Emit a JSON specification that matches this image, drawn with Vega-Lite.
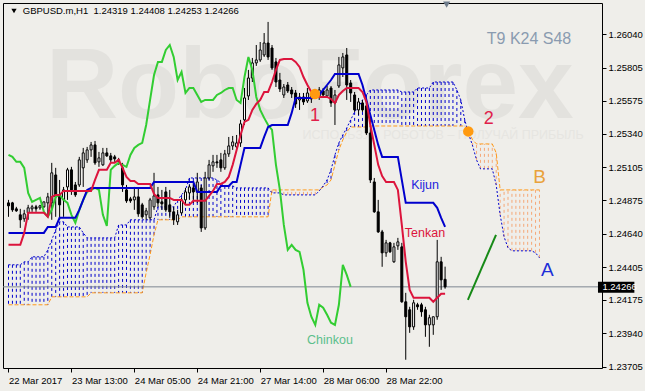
{
"$schema":"https://vega.github.io/schema/vega-lite/v6.json",
"width":599,"height":365,"autosize":{"type":"none"},
"padding":{"left":3,"top":3,"right":43,"bottom":23},
"background":"#efeeea",
"config":{"view":{"stroke":"#000000","strokeWidth":1},"axis":{"labelOverlap":false,"labelFlush":false,"labelBound":false,"grid":false,"domain":false,"title":null,"labelSeparation":0}},
"datasets":{
"bars":[
{"i":0,"o":1.24856,"h":1.24877,"l":1.24758,"c":1.24835,"t":1.24561,"k":1.24645},
{"i":1,"o":1.24856,"h":1.24863,"l":1.24793,"c":1.24807,"t":1.24561,"k":1.24645},
{"i":2,"o":1.24814,"h":1.24828,"l":1.24793,"c":1.248,"t":1.24561,"k":1.24645},
{"i":3,"o":1.24772,"h":1.24814,"l":1.2468,"c":1.24737,"t":1.24561,"k":1.24645},
{"i":4,"o":1.24744,"h":1.24807,"l":1.24723,"c":1.24779,"t":1.24645,"k":1.24645},
{"i":5,"o":1.24786,"h":1.24842,"l":1.24737,"c":1.24821,"t":1.24786,"k":1.24645},
{"i":6,"o":1.24814,"h":1.24842,"l":1.24793,"c":1.24828,"t":1.24786,"k":1.24645},
{"i":7,"o":1.24828,"h":1.24842,"l":1.24793,"c":1.24814,"t":1.24786,"k":1.24645},
{"i":8,"o":1.24821,"h":1.24842,"l":1.24807,"c":1.24835,"t":1.24786,"k":1.24645},
{"i":9,"o":1.24828,"h":1.24863,"l":1.24821,"c":1.24863,"t":1.24786,"k":1.24645},
{"i":10,"o":1.24856,"h":1.24926,"l":1.24758,"c":1.24898,"t":1.24758,"k":1.24687},
{"i":11,"o":1.24856,"h":1.25137,"l":1.24737,"c":1.25067,"t":1.24898,"k":1.24687},
{"i":12,"o":1.25052,"h":1.25102,"l":1.24758,"c":1.24898,"t":1.24912,"k":1.24687},
{"i":13,"o":1.24912,"h":1.25017,"l":1.24737,"c":1.24842,"t":1.24912,"k":1.24751},
{"i":14,"o":1.24877,"h":1.24968,"l":1.24758,"c":1.24947,"t":1.2494,"k":1.24751},
{"i":15,"o":1.24968,"h":1.25102,"l":1.24877,"c":1.25088,"t":1.2494,"k":1.24751},
{"i":16,"o":1.25088,"h":1.25109,"l":1.24912,"c":1.24947,"t":1.2494,"k":1.24751},
{"i":17,"o":1.24982,"h":1.25003,"l":1.24898,"c":1.24912,"t":1.2494,"k":1.24751},
{"i":18,"o":1.24982,"h":1.25179,"l":1.24968,"c":1.25158,"t":1.2494,"k":1.24807},
{"i":19,"o":1.25102,"h":1.25242,"l":1.24968,"c":1.25207,"t":1.2494,"k":1.24877},
{"i":20,"o":1.25158,"h":1.25249,"l":1.25137,"c":1.25228,"t":1.2494,"k":1.24947},
{"i":21,"o":1.25228,"h":1.25284,"l":1.25179,"c":1.25263,"t":1.2494,"k":1.24961},
{"i":22,"o":1.25263,"h":1.25291,"l":1.25123,"c":1.25137,"t":1.25017,"k":1.24961},
{"i":23,"o":1.25144,"h":1.25214,"l":1.25109,"c":1.25172,"t":1.25088,"k":1.24961},
{"i":24,"o":1.25123,"h":1.25242,"l":1.25116,"c":1.25207,"t":1.25088,"k":1.24961},
{"i":25,"o":1.25207,"h":1.25242,"l":1.25179,"c":1.25186,"t":1.25088,"k":1.24961},
{"i":26,"o":1.25186,"h":1.25207,"l":1.25137,"c":1.25158,"t":1.25137,"k":1.24961},
{"i":27,"o":1.25179,"h":1.25193,"l":1.25144,"c":1.25165,"t":1.25137,"k":1.24961},
{"i":28,"o":1.25158,"h":1.25172,"l":1.25123,"c":1.25144,"t":1.25158,"k":1.24961},
{"i":29,"o":1.25102,"h":1.25137,"l":1.24933,"c":1.24982,"t":1.25102,"k":1.24961},
{"i":30,"o":1.24947,"h":1.24982,"l":1.24856,"c":1.2487,"t":1.25038,"k":1.24961},
{"i":31,"o":1.24884,"h":1.24898,"l":1.24856,"c":1.2487,"t":1.2501,"k":1.24961},
{"i":32,"o":1.24877,"h":1.24968,"l":1.24807,"c":1.24898,"t":1.2501,"k":1.24961},
{"i":33,"o":1.24898,"h":1.24961,"l":1.24758,"c":1.24779,"t":1.24989,"k":1.24961},
{"i":34,"o":1.24842,"h":1.24856,"l":1.24744,"c":1.24758,"t":1.24989,"k":1.24961},
{"i":35,"o":1.24772,"h":1.24821,"l":1.24737,"c":1.248,"t":1.24989,"k":1.24961},
{"i":36,"o":1.24751,"h":1.24891,"l":1.24737,"c":1.24877,"t":1.24989,"k":1.24961},
{"i":37,"o":1.24828,"h":1.25067,"l":1.24807,"c":1.24905,"t":1.24919,"k":1.25003},
{"i":38,"o":1.24912,"h":1.24968,"l":1.24828,"c":1.24856,"t":1.24891,"k":1.25003},
{"i":39,"o":1.24863,"h":1.24947,"l":1.24807,"c":1.24849,"t":1.24891,"k":1.25003},
{"i":40,"o":1.24933,"h":1.24968,"l":1.24793,"c":1.24807,"t":1.24891,"k":1.25003},
{"i":41,"o":1.24842,"h":1.24947,"l":1.24751,"c":1.24793,"t":1.24891,"k":1.25003},
{"i":42,"o":1.24793,"h":1.24828,"l":1.24701,"c":1.24737,"t":1.24877,"k":1.25003},
{"i":43,"o":1.24723,"h":1.24807,"l":1.24701,"c":1.24772,"t":1.24877,"k":1.25003},
{"i":44,"o":1.24786,"h":1.24891,"l":1.24772,"c":1.24877,"t":1.24877,"k":1.25003},
{"i":45,"o":1.24877,"h":1.24961,"l":1.24842,"c":1.24933,"t":1.24842,"k":1.25003},
{"i":46,"o":1.24926,"h":1.24982,"l":1.24877,"c":1.24968,"t":1.24842,"k":1.25003},
{"i":47,"o":1.24961,"h":1.24996,"l":1.24856,"c":1.24933,"t":1.2487,"k":1.25003},
{"i":48,"o":1.24933,"h":1.25067,"l":1.24856,"c":1.25003,"t":1.2487,"k":1.24933},
{"i":49,"o":1.24961,"h":1.24982,"l":1.24652,"c":1.2468,"t":1.2487,"k":1.24933},
{"i":50,"o":1.2468,"h":1.25074,"l":1.24666,"c":1.25031,"t":1.2487,"k":1.24933},
{"i":51,"o":1.25031,"h":1.25158,"l":1.25017,"c":1.25123,"t":1.24905,"k":1.24933},
{"i":52,"o":1.25116,"h":1.25193,"l":1.25074,"c":1.25144,"t":1.2494,"k":1.24933},
{"i":53,"o":1.25144,"h":1.25193,"l":1.25102,"c":1.25137,"t":1.24989,"k":1.24933},
{"i":54,"o":1.25158,"h":1.25207,"l":1.25074,"c":1.25102,"t":1.24989,"k":1.24975},
{"i":55,"o":1.25102,"h":1.25228,"l":1.25088,"c":1.252,"t":1.25003,"k":1.24975},
{"i":56,"o":1.252,"h":1.25319,"l":1.25179,"c":1.25256,"t":1.25038,"k":1.24975},
{"i":57,"o":1.25256,"h":1.25326,"l":1.25228,"c":1.25284,"t":1.25123,"k":1.25003},
{"i":58,"o":1.25249,"h":1.25333,"l":1.25242,"c":1.25277,"t":1.25228,"k":1.25003},
{"i":59,"o":1.25277,"h":1.25439,"l":1.25249,"c":1.25411,"t":1.25333,"k":1.25123},
{"i":60,"o":1.25439,"h":1.25663,"l":1.25403,"c":1.25593,"t":1.25425,"k":1.25242},
{"i":61,"o":1.25607,"h":1.2579,"l":1.25579,"c":1.25733,"t":1.25439,"k":1.25242},
{"i":62,"o":1.25733,"h":1.25874,"l":1.25705,"c":1.25839,"t":1.25509,"k":1.25242},
{"i":63,"o":1.25839,"h":1.25965,"l":1.25818,"c":1.2586,"t":1.25551,"k":1.25242},
{"i":64,"o":1.2586,"h":1.25986,"l":1.25846,"c":1.2593,"t":1.25579,"k":1.25242},
{"i":65,"o":1.25895,"h":1.26049,"l":1.25881,"c":1.25979,"t":1.25635,"k":1.25319},
{"i":66,"o":1.25979,"h":1.26127,"l":1.2586,"c":1.25881,"t":1.25635,"k":1.25389},
{"i":67,"o":1.25944,"h":1.25965,"l":1.2579,"c":1.25804,"t":1.25705,"k":1.25403},
{"i":68,"o":1.25846,"h":1.25874,"l":1.2567,"c":1.25705,"t":1.2579,"k":1.25403},
{"i":69,"o":1.25719,"h":1.25769,"l":1.25635,"c":1.25656,"t":1.2586,"k":1.25403},
{"i":70,"o":1.25614,"h":1.25691,"l":1.25593,"c":1.2567,"t":1.25867,"k":1.25403},
{"i":71,"o":1.25684,"h":1.25705,"l":1.25628,"c":1.25642,"t":1.25867,"k":1.25403},
{"i":72,"o":1.25649,"h":1.2567,"l":1.25593,"c":1.25621,"t":1.25867,"k":1.25488},
{"i":73,"o":1.25628,"h":1.25649,"l":1.25523,"c":1.25551,"t":1.25846,"k":1.25593},
{"i":74,"o":1.25579,"h":1.25628,"l":1.25509,"c":1.256,"t":1.25811,"k":1.25593},
{"i":75,"o":1.256,"h":1.25628,"l":1.25544,"c":1.25565,"t":1.2574,"k":1.25593},
{"i":76,"o":1.25572,"h":1.25663,"l":1.25558,"c":1.25628,"t":1.25684,"k":1.25593},
{"i":77,"o":1.25621,"h":1.25635,"l":1.25558,"c":1.25586,"t":1.25635,"k":1.25593},
{"i":78,"o":1.25607,"h":1.25656,"l":1.25593,"c":1.25635,"t":1.25614,"k":1.25614},
{"i":79,"o":1.256,"h":1.2567,"l":1.25579,"c":1.25649,"t":1.256,"k":1.25614},
{"i":80,"o":1.25642,"h":1.25663,"l":1.256,"c":1.25614,"t":1.256,"k":1.25649},
{"i":81,"o":1.25607,"h":1.25677,"l":1.25593,"c":1.25649,"t":1.256,"k":1.25684},
{"i":82,"o":1.25663,"h":1.25677,"l":1.2553,"c":1.25558,"t":1.25586,"k":1.25719},
{"i":83,"o":1.25558,"h":1.25649,"l":1.25403,"c":1.25614,"t":1.25558,"k":1.25762},
{"i":84,"o":1.25677,"h":1.25881,"l":1.25663,"c":1.25825,"t":1.25614,"k":1.25762},
{"i":85,"o":1.25804,"h":1.25909,"l":1.2574,"c":1.25881,"t":1.25642,"k":1.25762},
{"i":86,"o":1.25895,"h":1.25944,"l":1.25579,"c":1.25684,"t":1.25663,"k":1.25762},
{"i":87,"o":1.25698,"h":1.25719,"l":1.25565,"c":1.25628,"t":1.25663,"k":1.25762},
{"i":88,"o":1.25614,"h":1.25635,"l":1.25495,"c":1.25509,"t":1.25663,"k":1.25762},
{"i":89,"o":1.25509,"h":1.25593,"l":1.25474,"c":1.25565,"t":1.25663,"k":1.25762},
{"i":90,"o":1.25558,"h":1.25579,"l":1.25495,"c":1.25509,"t":1.25635,"k":1.25684},
{"i":91,"o":1.25537,"h":1.25579,"l":1.25333,"c":1.25347,"t":1.25565,"k":1.25579},
{"i":92,"o":1.25347,"h":1.2546,"l":1.24996,"c":1.25017,"t":1.25403,"k":1.25474},
{"i":93,"o":1.25003,"h":1.25031,"l":1.24786,"c":1.24793,"t":1.25263,"k":1.25368},
{"i":94,"o":1.24793,"h":1.24877,"l":1.24645,"c":1.24652,"t":1.25123,"k":1.25263},
{"i":95,"o":1.24652,"h":1.24666,"l":1.24407,"c":1.24505,"t":1.25045,"k":1.25179},
{"i":96,"o":1.24505,"h":1.24596,"l":1.24477,"c":1.24575,"t":1.25003,"k":1.25179},
{"i":97,"o":1.24575,"h":1.24582,"l":1.24505,"c":1.24512,"t":1.25003,"k":1.25179},
{"i":98,"o":1.24442,"h":1.24575,"l":1.24435,"c":1.24547,"t":1.25003,"k":1.25179},
{"i":99,"o":1.24554,"h":1.2461,"l":1.24526,"c":1.24582,"t":1.24947,"k":1.25179},
{"i":100,"o":1.24547,"h":1.24575,"l":1.24154,"c":1.24161,"t":1.24701,"k":1.25017},
{"i":101,"o":1.24161,"h":1.24224,"l":1.23754,"c":1.24056,"t":1.24442,"k":1.24856},
{"i":102,"o":1.24105,"h":1.24126,"l":1.23943,"c":1.23985,"t":1.24245,"k":1.24856},
{"i":103,"o":1.23985,"h":1.24175,"l":1.23964,"c":1.24154,"t":1.24189,"k":1.24856},
{"i":104,"o":1.2414,"h":1.24154,"l":1.24105,"c":1.24126,"t":1.24189,"k":1.24856},
{"i":105,"o":1.2414,"h":1.24154,"l":1.24056,"c":1.24091,"t":1.24189,"k":1.24856},
{"i":106,"o":1.24105,"h":1.24126,"l":1.23915,"c":1.23999,"t":1.24189,"k":1.24856},
{"i":107,"o":1.23999,"h":1.2407,"l":1.23845,"c":1.24049,"t":1.24189,"k":1.24856},
{"i":108,"o":1.23999,"h":1.24056,"l":1.23929,"c":1.24056,"t":1.24161,"k":1.24856},
{"i":109,"o":1.24056,"h":1.24596,"l":1.24035,"c":1.24442,"t":1.24189,"k":1.24821},
{"i":110,"o":1.24442,"h":1.24477,"l":1.24245,"c":1.24315,"t":1.24217,"k":1.24751},
{"i":111,"o":1.24319,"h":1.24408,"l":1.24253,"c":1.24266,"t":1.24217,"k":1.24687}
],
"cloud":[
{"i":0,"a":1.24421,"b":1.2414},{"i":1,"a":1.24421,"b":1.2414},{"i":2,"a":1.24421,"b":1.2414},{"i":3,"a":1.24421,"b":1.2414},
{"i":4,"a":1.24442,"b":1.2414},{"i":5,"a":1.24442,"b":1.2414},{"i":6,"a":1.24477,"b":1.2414},{"i":7,"a":1.24477,"b":1.2414},
{"i":8,"a":1.24477,"b":1.2414},{"i":9,"a":1.24477,"b":1.2414},{"i":10,"a":1.24526,"b":1.2414},{"i":11,"a":1.24596,"b":1.24196},
{"i":12,"a":1.24666,"b":1.24196},{"i":13,"a":1.24723,"b":1.24196},{"i":14,"a":1.24723,"b":1.24196},{"i":15,"a":1.24687,"b":1.24196},
{"i":16,"a":1.24687,"b":1.24196},{"i":17,"a":1.24687,"b":1.24196},{"i":18,"a":1.24687,"b":1.24196},{"i":19,"a":1.24645,"b":1.24196},
{"i":20,"a":1.2461,"b":1.24196},{"i":21,"a":1.2461,"b":1.24224},{"i":22,"a":1.2461,"b":1.24224},{"i":23,"a":1.2461,"b":1.24224},
{"i":24,"a":1.2461,"b":1.24224},{"i":25,"a":1.2461,"b":1.24224},{"i":26,"a":1.2461,"b":1.24224},{"i":27,"a":1.2461,"b":1.24224},
{"i":28,"a":1.24701,"b":1.24224},{"i":29,"a":1.24701,"b":1.24224},{"i":30,"a":1.24701,"b":1.24224},{"i":31,"a":1.24737,"b":1.24224},
{"i":32,"a":1.24737,"b":1.24224},{"i":33,"a":1.24737,"b":1.24224},{"i":34,"a":1.24737,"b":1.24224},{"i":35,"a":1.24737,"b":1.24365},
{"i":36,"a":1.24737,"b":1.24491},{"i":37,"a":1.24737,"b":1.24631},{"i":38,"a":1.24828,"b":1.24737},{"i":39,"a":1.24828,"b":1.24737},
{"i":40,"a":1.24828,"b":1.24737},{"i":41,"a":1.24828,"b":1.24737},{"i":42,"a":1.24828,"b":1.24737},{"i":43,"a":1.24877,"b":1.24737},
{"i":44,"a":1.24912,"b":1.24758},{"i":45,"a":1.24947,"b":1.24758},{"i":46,"a":1.25031,"b":1.24758},{"i":47,"a":1.25031,"b":1.24758},
{"i":48,"a":1.25031,"b":1.24758},{"i":49,"a":1.25031,"b":1.24758},{"i":50,"a":1.25031,"b":1.24758},{"i":51,"a":1.25031,"b":1.24758},
{"i":52,"a":1.25031,"b":1.24758},{"i":53,"a":1.25017,"b":1.24758},{"i":54,"a":1.24996,"b":1.24758},{"i":55,"a":1.24975,"b":1.24758},
{"i":56,"a":1.24975,"b":1.24758},{"i":57,"a":1.24975,"b":1.24758},{"i":58,"a":1.24961,"b":1.24758},{"i":59,"a":1.24961,"b":1.24758},
{"i":60,"a":1.24961,"b":1.24758},{"i":61,"a":1.24961,"b":1.24758},{"i":62,"a":1.24961,"b":1.24758},{"i":63,"a":1.24961,"b":1.24758},
{"i":64,"a":1.24961,"b":1.24758},{"i":65,"a":1.24961,"b":1.24758},{"i":66,"a":1.24961,"b":1.24758},{"i":67,"a":1.24926,"b":1.24947},
{"i":68,"a":1.24926,"b":1.24947},{"i":69,"a":1.24926,"b":1.24947},{"i":70,"a":1.24912,"b":1.24947},{"i":71,"a":1.24912,"b":1.24947},
{"i":72,"a":1.24912,"b":1.24947},{"i":73,"a":1.24912,"b":1.24947},{"i":74,"a":1.24912,"b":1.24947},{"i":75,"a":1.24912,"b":1.24947},
{"i":76,"a":1.24912,"b":1.24947},{"i":77,"a":1.24912,"b":1.24947},{"i":78,"a":1.24912,"b":1.24947},{"i":79,"a":1.2494,"b":1.24947},
{"i":80,"a":1.24975,"b":1.24968},{"i":81,"a":1.25017,"b":1.24982},{"i":82,"a":1.25088,"b":1.25017},{"i":83,"a":1.25193,"b":1.25123},
{"i":84,"a":1.25277,"b":1.25228},{"i":85,"a":1.25333,"b":1.25298},{"i":86,"a":1.25382,"b":1.25354},{"i":87,"a":1.25439,"b":1.25389},
{"i":88,"a":1.25495,"b":1.25389},{"i":89,"a":1.2553,"b":1.25389},{"i":90,"a":1.25579,"b":1.25389},{"i":91,"a":1.25614,"b":1.25389},
{"i":92,"a":1.25649,"b":1.25396},{"i":93,"a":1.25649,"b":1.25396},{"i":94,"a":1.25649,"b":1.25396},{"i":95,"a":1.25649,"b":1.25396},
{"i":96,"a":1.25649,"b":1.25396},{"i":97,"a":1.25649,"b":1.25396},{"i":98,"a":1.25649,"b":1.25396},{"i":99,"a":1.25649,"b":1.25396},
{"i":100,"a":1.25635,"b":1.25396},{"i":101,"a":1.25635,"b":1.25396},{"i":102,"a":1.25635,"b":1.25396},{"i":103,"a":1.25635,"b":1.25396},
{"i":104,"a":1.25663,"b":1.25396},{"i":105,"a":1.25663,"b":1.25396},{"i":106,"a":1.25663,"b":1.25396},{"i":107,"a":1.25663,"b":1.25396},
{"i":108,"a":1.25705,"b":1.25396},{"i":109,"a":1.25705,"b":1.25396},{"i":110,"a":1.25705,"b":1.25396},{"i":111,"a":1.25705,"b":1.25396},
{"i":112,"a":1.25705,"b":1.25396},{"i":113,"a":1.25705,"b":1.25396},{"i":114,"a":1.25649,"b":1.25396},{"i":115,"a":1.25579,"b":1.25396},
{"i":116,"a":1.25439,"b":1.25396},{"i":117,"a":1.2534,"b":1.25354},{"i":118,"a":1.25256,"b":1.25298},{"i":119,"a":1.25158,"b":1.2527},
{"i":120,"a":1.25095,"b":1.2527},{"i":121,"a":1.25095,"b":1.2527},{"i":122,"a":1.25095,"b":1.2527},{"i":123,"a":1.25095,"b":1.2527},
{"i":124,"a":1.24982,"b":1.25207},{"i":125,"a":1.24772,"b":1.24947},{"i":126,"a":1.24617,"b":1.24947},{"i":127,"a":1.2454,"b":1.24947},
{"i":128,"a":1.24519,"b":1.24947},{"i":129,"a":1.24519,"b":1.24947},{"i":130,"a":1.24519,"b":1.24947},{"i":131,"a":1.24519,"b":1.24947},
{"i":132,"a":1.24519,"b":1.24947},{"i":133,"a":1.24519,"b":1.24947},{"i":134,"a":1.24505,"b":1.24947},{"i":135,"a":1.2447,"b":1.24947}
],
"chinkou":[
{"i":0,"v":1.25193},{"i":1,"v":1.25179},{"i":2,"v":1.25144},{"i":3,"v":1.25144},{"i":4,"v":1.25102},{"i":5,"v":1.24926},
{"i":6,"v":1.24863},{"i":7,"v":1.24877},{"i":8,"v":1.24891},{"i":9,"v":1.24793},{"i":10,"v":1.24758},{"i":11,"v":1.24807},
{"i":12,"v":1.24898},{"i":13,"v":1.24912},{"i":14,"v":1.24877},{"i":15,"v":1.24856},{"i":16,"v":1.24772},{"i":17,"v":1.24716},
{"i":18,"v":1.24807},{"i":19,"v":1.24877},{"i":20,"v":1.24933},{"i":21,"v":1.24947},{"i":22,"v":1.24961},{"i":23,"v":1.24947},
{"i":24,"v":1.24772},{"i":25,"v":1.24694},{"i":26,"v":1.25088},{"i":27,"v":1.25116},{"i":28,"v":1.25137},{"i":29,"v":1.25123},
{"i":30,"v":1.25109},{"i":31,"v":1.25193},{"i":32,"v":1.25242},{"i":33,"v":1.25263},{"i":34,"v":1.25277},{"i":35,"v":1.25403},
{"i":36,"v":1.25579},{"i":37,"v":1.25754},{"i":38,"v":1.25846},{"i":39,"v":1.25846},{"i":40,"v":1.2593},{"i":41,"v":1.25965},
{"i":42,"v":1.25881},{"i":43,"v":1.25719},{"i":44,"v":1.25776},{"i":45,"v":1.25628},{"i":46,"v":1.25663},{"i":47,"v":1.25663},
{"i":48,"v":1.25614},{"i":49,"v":1.25565},{"i":50,"v":1.25579},{"i":51,"v":1.25579},{"i":52,"v":1.25579},{"i":53,"v":1.25614},
{"i":54,"v":1.25628},{"i":55,"v":1.25649},{"i":56,"v":1.25663},{"i":57,"v":1.25663},{"i":58,"v":1.25579},{"i":59,"v":1.25558},
{"i":60,"v":1.2574},{"i":61,"v":1.25881},{"i":62,"v":1.2579},{"i":63,"v":1.256},{"i":64,"v":1.25509},{"i":65,"v":1.25453},
{"i":66,"v":1.25403},{"i":67,"v":1.25368},{"i":68,"v":1.25123},{"i":69,"v":1.24947},{"i":70,"v":1.24701},{"i":71,"v":1.24526},
{"i":72,"v":1.24561},{"i":73,"v":1.24526},{"i":74,"v":1.24512},{"i":75,"v":1.24386},{"i":76,"v":1.24154},{"i":77,"v":1.24056},
{"i":78,"v":1.23999},{"i":79,"v":1.2414},{"i":80,"v":1.24119},{"i":81,"v":1.2407},{"i":82,"v":1.24014},{"i":83,"v":1.23999},
{"i":84,"v":1.2414},{"i":85,"v":1.24421},{"i":86,"v":1.2435},{"i":87,"v":1.24266}
],
"forecast":[{"i":116.8,"p":1.24175},{"i":123.95,"p":1.24631}],
"signals":[{"i":77.9,"p":1.25621},{"i":116.9,"p":1.25358}]
},
"layer":[
{"data":{"name":"cloud"},"mark":{"type":"rule","strokeWidth":1,"opacity":0},
 "encoding":{
  "x":{"field":"i","type":"quantitative","scale":{"domain":[-0.125,149.625],"nice":false,"zero":false},
   "axis":{"orient":"bottom","values":[0,16,32,48,64,80,96],"tickCount":20,"labelExpr":"['22 Mar 2017','23 Mar 13:00','24 Mar 05:00','24 Mar 21:00','27 Mar 14:00','28 Mar 06:00','28 Mar 22:00'][round(datum.value/16)]","title":null,"grid":false,"domain":false,"ticks":true,"tickSize":4,"tickColor":"#000000","tickWidth":1,"labelAlign":"left","labelBaseline":"top","labelPadding":3,"labelDx":1,"labelFont":"Liberation Sans","labelFontSize":9.5,"labelColor":"#000000","labelOverlap":false,"labelFlush":false,"labelBound":false}},
  "y":{"field":"a","type":"quantitative","scale":{"domain":[1.23696,1.2626],"nice":false,"zero":false},
   "axis":{"orient":"right","values":[1.2604,1.25805,1.25575,1.2534,1.25105,1.24875,1.2464,1.24405,1.24175,1.2394,1.23705],"tickCount":30,"format":".5f","title":null,"grid":false,"domain":false,"ticks":true,"tickSize":4,"tickColor":"#000000","tickWidth":1,"labelPadding":2,"labelDy":1,"labelFont":"Liberation Sans","labelFontSize":9.5,"labelColor":"#000000","labelOverlap":false,"labelFlush":false,"labelBaseline":"middle"}},
  "y2":{"field":"b"}}},
{"data":{"values":[{}]},"mark":{"type":"text","text":"RoboForex","font":"Liberation Sans","fontSize":100,"fontWeight":"bold","color":"#e3e2de","align":"center","baseline":"alphabetic"},
 "encoding":{"x":{"datum":76.6,"type":"quantitative","title":null},"y":{"datum":1.25453,"type":"quantitative","title":null}}},
{"data":{"values":[{}]},"mark":{"type":"text","text":"ИСПОЛЬЗУЙ РОБОТОВ – ПОЛУЧАЙ ПРИБЫЛЬ","font":"Liberation Sans","fontSize":12.5,"color":"#e6e5e1","align":"center","baseline":"middle"},
 "encoding":{"x":{"datum":110.5,"type":"quantitative","title":null},"y":{"datum":1.2533,"type":"quantitative","title":null}}},
{"data":{"name":"cloud"},"mark":{"type":"rule","strokeDash":[3,3],"strokeWidth":1},
 "encoding":{"x":{"field":"i","type":"quantitative","title":null},"y":{"field":"a","type":"quantitative","title":null},"y2":{"field":"b"},
  "color":{"condition":{"test":"datum.a > datum.b","value":"#0000cd"},"value":"#f5a878"}}},
{"data":{"name":"cloud"},"mark":{"type":"line","color":"#ff9a1a","strokeWidth":1,"strokeDash":[4,2],"interpolate":"linear"},
 "encoding":{"x":{"field":"i","type":"quantitative","title":null},"y":{"field":"b","type":"quantitative","title":null}}},
{"data":{"name":"cloud"},"mark":{"type":"line","color":"#0000cd","strokeWidth":1,"strokeDash":[2,2],"interpolate":"linear"},
 "encoding":{"x":{"field":"i","type":"quantitative","title":null},"y":{"field":"a","type":"quantitative","title":null}}},
{"data":{"values":[{}]},"mark":{"type":"rule","color":"#7d8792","strokeWidth":1},
 "encoding":{"y":{"datum":1.24266,"type":"quantitative","title":null}}},
{"data":{"name":"bars"},"mark":{"type":"rule","color":"#000000","strokeWidth":1},
 "encoding":{"x":{"field":"i","type":"quantitative","title":null},"y":{"field":"l","type":"quantitative","title":null},"y2":{"field":"h"}}},
{"data":{"name":"bars"},"mark":{"type":"bar","width":2,"stroke":"#000000","strokeWidth":1},
 "encoding":{"x":{"field":"i","type":"quantitative","title":null},"y":{"field":"o","type":"quantitative","title":null},"y2":{"field":"c"},
  "fill":{"condition":{"test":"datum.c > datum.o","value":"#ffffff"},"value":"#000000"}}},
{"data":{"name":"chinkou"},"mark":{"type":"line","color":"#32cd32","strokeWidth":2},
 "encoding":{"x":{"field":"i","type":"quantitative","title":null},"y":{"field":"v","type":"quantitative","title":null}}},
{"data":{"name":"bars"},"mark":{"type":"line","color":"#0000cd","strokeWidth":2},
 "encoding":{"x":{"field":"i","type":"quantitative","title":null},"y":{"field":"k","type":"quantitative","title":null}}},
{"data":{"name":"bars"},"mark":{"type":"line","color":"#dc143c","strokeWidth":2},
 "encoding":{"x":{"field":"i","type":"quantitative","title":null},"y":{"field":"t","type":"quantitative","title":null}}},
{"data":{"name":"forecast"},"mark":{"type":"line","color":"#178a17","strokeWidth":2},
 "encoding":{"x":{"field":"i","type":"quantitative","title":null},"y":{"field":"p","type":"quantitative","title":null}}},
{"data":{"name":"signals"},"mark":{"type":"point","shape":"circle","filled":true,"color":"#ff9a10","size":110,"opacity":1},
 "encoding":{"x":{"field":"i","type":"quantitative","title":null},"y":{"field":"p","type":"quantitative","title":null}}},
{"data":{"values":[{}]},"mark":{"type":"text","text":"T9 K24 S48","font":"Liberation Sans","fontSize":16,"color":"#8a9bb0","align":"left","baseline":"middle"},
 "encoding":{"x":{"datum":121.6,"type":"quantitative","title":null},"y":{"datum":1.26007,"type":"quantitative","title":null}}},
{"data":{"values":[{}]},"mark":{"type":"text","text":"1","font":"Liberation Sans","fontSize":18,"color":"#e0204a","align":"center","baseline":"middle"},
 "encoding":{"x":{"datum":77.9,"type":"quantitative","title":null},"y":{"datum":1.25467,"type":"quantitative","title":null}}},
{"data":{"values":[{}]},"mark":{"type":"text","text":"2","font":"Liberation Sans","fontSize":18,"color":"#e0204a","align":"center","baseline":"middle"},
 "encoding":{"x":{"datum":122.1,"type":"quantitative","title":null},"y":{"datum":1.25446,"type":"quantitative","title":null}}},
{"data":{"values":[{}]},"mark":{"type":"text","text":"B","font":"Liberation Sans","fontSize":19,"color":"#e9a23b","align":"center","baseline":"middle"},
 "encoding":{"x":{"datum":135.0,"type":"quantitative","title":null},"y":{"datum":1.25041,"type":"quantitative","title":null}}},
{"data":{"values":[{}]},"mark":{"type":"text","text":"A","font":"Liberation Sans","fontSize":19,"color":"#1d2fd8","align":"center","baseline":"middle"},
 "encoding":{"x":{"datum":137.0,"type":"quantitative","title":null},"y":{"datum":1.24386,"type":"quantitative","title":null}}},
{"data":{"values":[{}]},"mark":{"type":"text","text":"Kijun","font":"Liberation Sans","fontSize":12.5,"color":"#2222dd","align":"center","baseline":"middle"},
 "encoding":{"x":{"datum":105.9,"type":"quantitative","title":null},"y":{"datum":1.24982,"type":"quantitative","title":null}}},
{"data":{"values":[{}]},"mark":{"type":"text","text":"Tenkan","font":"Liberation Sans","fontSize":12.5,"color":"#dc143c","align":"center","baseline":"middle"},
 "encoding":{"x":{"datum":105.9,"type":"quantitative","title":null},"y":{"datum":1.24642,"type":"quantitative","title":null}}},
{"data":{"values":[{}]},"mark":{"type":"text","text":"Chinkou","font":"Liberation Sans","fontSize":12.5,"color":"#5cbf8c","align":"center","baseline":"middle"},
 "encoding":{"x":{"datum":81.75,"type":"quantitative","title":null},"y":{"datum":1.23894,"type":"quantitative","title":null}}},
{"data":{"values":[{}]},"mark":{"type":"rect","color":"#000000"},
 "encoding":{"x":{"datum":149.875,"type":"quantitative","title":null},"x2":{"datum":159.125},"y":{"datum":1.24301,"type":"quantitative","title":null},"y2":{"datum":1.24224}}},
{"data":{"values":[{}]},"mark":{"type":"text","text":"1.24266","font":"Liberation Sans","fontSize":9.5,"color":"#ffffff","align":"left","baseline":"middle"},
 "encoding":{"x":{"datum":151.0,"type":"quantitative","title":null},"y":{"datum":1.24266,"type":"quantitative","title":null}}},
{"data":{"values":[{}]},"mark":{"type":"point","shape":"triangle-down","filled":true,"color":"#6d7b8a","size":50,"opacity":1},
 "encoding":{"x":{"datum":111.4,"type":"quantitative","title":null},"y":{"datum":1.26249,"type":"quantitative","title":null}}},
{"data":{"values":[{}]},"mark":{"type":"point","shape":"triangle-down","filled":true,"color":"#000000","size":28,"opacity":1},
 "encoding":{"x":{"datum":1.4,"type":"quantitative","title":null},"y":{"datum":1.26204,"type":"quantitative","title":null}}},
{"data":{"values":[{}]},"mark":{"type":"text","text":"GBPUSD.m,H1\u00a0 1.24319 1.24408 1.24253 1.24266","font":"Liberation Sans","fontSize":9.5,"color":"#000000","align":"left","baseline":"middle"},
 "encoding":{"x":{"datum":3.625,"type":"quantitative","title":null},"y":{"datum":1.26204,"type":"quantitative","title":null}}}
]
}
